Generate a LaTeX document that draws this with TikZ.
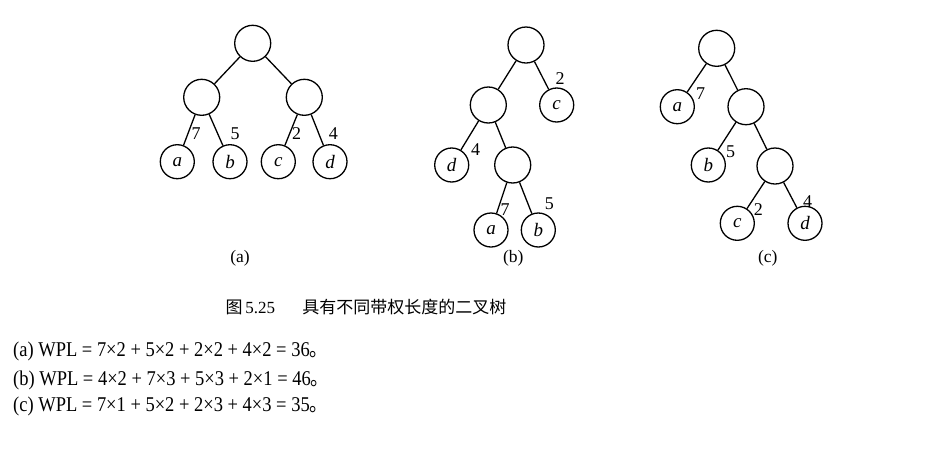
\documentclass[tikz,border=0pt]{standalone}
\usepackage{fontspec}
\setmainfont{Liberation Serif}
\newfontfamily\cjk{Noto Sans CJK SC}
\begin{document}
\begin{tikzpicture}[x=1pt,y=-1pt,
  inner/.style={circle,draw,line width=1.3pt,minimum size=36pt,inner sep=0pt},
  leaf/.style={circle,draw,line width=1.3pt,minimum size=34pt,inner sep=0pt,font=\fontsize{19}{19}\selectfont\itshape},
  wt/.style={font=\fontsize{18}{18}\selectfont,inner sep=0pt},
  edge/.style={line width=1.3pt},
  sub/.style={font=\fontsize{17.5}{17.5}\selectfont,inner sep=0pt},
  formula/.style={font=\fontsize{21}{21}\selectfont,inner sep=0pt,anchor=west}]
\useasboundingbox (0,0) rectangle (931,448);
% ---------- tree (a)
\node[inner] (ar) at (252.7,43.3) {};
\node[inner] (al) at (201.7,97.3) {};
\node[inner] (aR) at (304.3,97.3) {};
\node[leaf] (aa) at (177.3,161.7) {a};
\node[leaf] (ab) at (230,161.7) {b};
\node[leaf] (ac) at (278.3,161.7) {c};
\node[leaf] (ad) at (330,161.7) {d};
\draw[edge] (ar) -- (al); \draw[edge] (ar) -- (aR);
\draw[edge] (al) -- (aa); \draw[edge] (al) -- (ab);
\draw[edge] (aR) -- (ac); \draw[edge] (aR) -- (ad);
\node[wt] (aw7) at (196,133.3) {7};
\node[wt] (aw5) at (235,133.3) {5};
\node[wt] (aw2) at (296.7,133.3) {2};
\node[wt] (aw4) at (333.3,133.3) {4};
\node[sub] (acap) at (240,258.3) {(a)};
% ---------- tree (b)
\node[inner] (br) at (526,45) {};
\node[leaf] (bc) at (556.7,105) {c};
\node[inner] (bl) at (488.3,105) {};
\node[leaf] (bd) at (451.7,165) {d};
\node[inner] (bm) at (512.7,165) {};
\node[leaf] (ba) at (491,230) {a};
\node[leaf] (bb) at (538.3,230) {b};
\draw[edge] (br) -- (bl); \draw[edge] (br) -- (bc);
\draw[edge] (bl) -- (bd); \draw[edge] (bl) -- (bm);
\draw[edge] (bm) -- (ba); \draw[edge] (bm) -- (bb);
\node[wt] (bw2) at (560,78.3) {2};
\node[wt] (bw4) at (475.7,150) {4};
\node[wt] (bw7) at (505,210) {7};
\node[wt] (bw5) at (549.3,203.3) {5};
\node[sub] (bcap) at (513.3,258.3) {(b)};
% ---------- tree (c)
\node[inner] (cr) at (716.7,48.3) {};
\node[leaf] (ca) at (677.3,106.7) {a};
\node[inner] (cm) at (746,106.7) {};
\node[leaf] (cb) at (708.3,165) {b};
\node[inner] (cn) at (775,166) {};
\node[leaf] (cc) at (737.3,223.3) {c};
\node[leaf] (cd) at (805,223.3) {d};
\draw[edge] (cr) -- (ca); \draw[edge] (cr) -- (cm);
\draw[edge] (cm) -- (cb); \draw[edge] (cm) -- (cn);
\draw[edge] (cn) -- (cc); \draw[edge] (cn) -- (cd);
\node[wt] (cw7) at (700.7,93.3) {7};
\node[wt] (cw5) at (730.7,151.7) {5};
\node[wt] (cw2) at (758.3,210) {2};
\node[wt] (cw4) at (807.7,201.7) {4};
\node[sub] (ccap) at (767.7,258.3) {(c)};
% ---------- caption and formulas
\node[font=\fontsize{17}{17}\selectfont,inner sep=0pt] (fig) at (366,306.7) {{\cjk 图}\,5.25\hspace{1.6em}{\cjk 具有不同带权长度的二叉树}};
\node[formula] (fa) at (13,351.7) {\scalebox{0.88}[1]{(a) WPL = 7×2 + 5×2 + 2×2 + 4×2 = 36{\cjk 。}}};
\node[formula] (fb) at (13,380) {\scalebox{0.88}[1]{(b) WPL = 4×2 + 7×3 + 5×3 + 2×1 = 46{\cjk 。}}};
\node[formula] (fc) at (13,406.7) {\scalebox{0.88}[1]{(c) WPL = 7×1 + 5×2 + 2×3 + 4×3 = 35{\cjk 。}}};
\end{tikzpicture}
\end{document}
